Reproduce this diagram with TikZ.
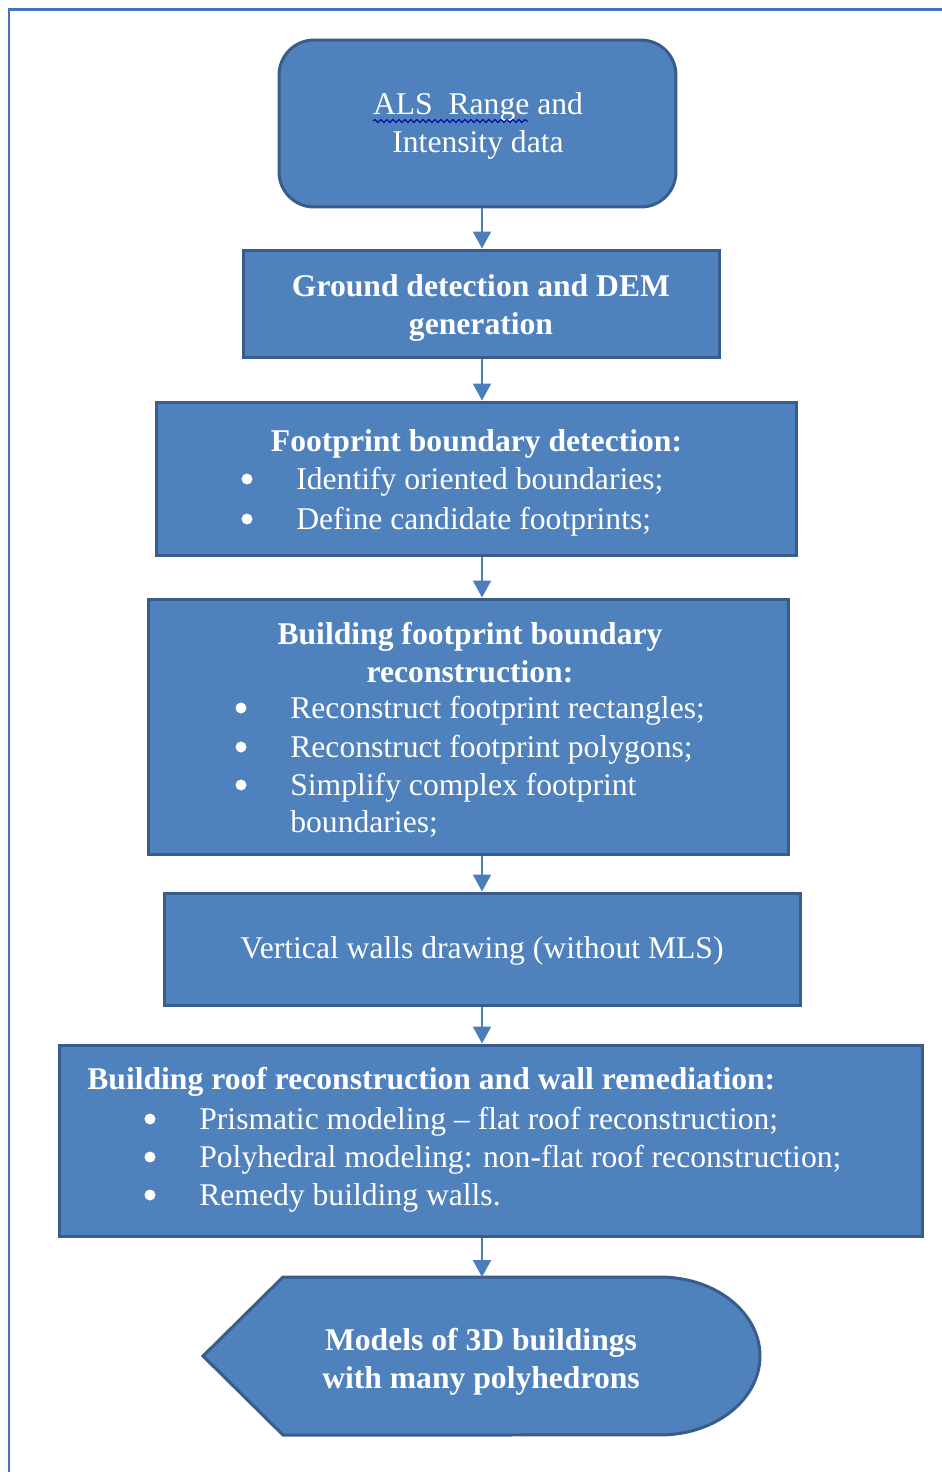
\documentclass[tikz,border=0pt]{standalone}
\usepackage{fontspec}
\setmainfont{Liberation Serif}
\usetikzlibrary{arrows.meta,decorations.pathmorphing}

\definecolor{boxfill}{RGB}{79,129,189}
\definecolor{boxedge}{RGB}{56,93,138}
\definecolor{framecol}{RGB}{68,114,196}
\definecolor{flowcol}{RGB}{74,126,187}

\begin{document}
\begin{tikzpicture}[
        x = 0.02cm, y = -0.02cm,
        > = {Triangle[width=0.36cm, length=0.34cm]},
        stepbox/.style = {draw = boxedge, fill = boxfill, line width = 0.06cm, inner sep = 0pt},
        steptext/.style = {text = white, inner sep = 0pt, font = \fontsize{18}{21.6}\selectfont, align = center},
        boldtext/.style = {steptext, font = \fontsize{18}{21.6}\selectfont\bfseries},
        itemtext/.style = {text = white, inner sep = 0pt, font = \fontsize{18}{21.6}\selectfont, anchor = base west},
        dot/.style = {circle, fill = white, inner sep = 0pt, minimum size = 0.22cm},
        flow/.style = {->, draw = flowcol, line width = 0.04cm}
    ]
        \useasboundingbox (0,0) rectangle (942,1472);
        % page frame (top and left edges only)
        \draw[framecol, line width = 0.06cm] (942,9) -- (9,9) -- (9,1472);

        % boxes
        \node[stepbox, rounded corners = 0.7cm, minimum width = 7.94cm, minimum height = 3.34cm] (als) at (477.5,123.5) {};
        \node[stepbox, minimum width = 9.54cm, minimum height = 2.14cm] (ground) at (481.5,303.5) {};
        \node[stepbox, minimum width = 12.82cm, minimum height = 3.08cm] (detect) at (476.5,479) {};
        \node[stepbox, minimum width = 12.82cm, minimum height = 5.12cm] (recon) at (468.5,727) {};
        \node[stepbox, minimum width = 12.74cm, minimum height = 2.24cm] (walls) at (482.5,949) {};
        \node[stepbox, minimum width = 17.28cm, minimum height = 3.84cm] (roof) at (491,1141) {};
        \draw[stepbox] (203,1356) -- (283,1277) -- (660,1277)
            arc[start angle = 90, end angle = -90, x radius = 2cm, y radius = 1.58cm]
            -- (283,1435) -- cycle;
        \coordinate (modelstop) at (482,1277);
        \coordinate (axis) at (482,0);

        % texts
        \node[steptext] (alstext) at (478,126) {ALS\ \ Range and\\Intensity data};
        \draw[blue!70!black, line width = 0.02cm, decorate,
            decoration = {snake, amplitude = 0.03cm, segment length = 0.12cm}] (373,121) -- (528,121);
        \node[boldtext] (groundtext) at (481,308) {Ground detection and DEM\\generation};

        \node[boldtext, anchor = base] (detecttitle) at (476.5,451) {Footprint boundary detection:};
        \node[dot] (db1) at (247,479) {};
        \node[itemtext] (di1) at (296,489) {Identify oriented boundaries;};
        \node[dot] (db2) at (247,519) {};
        \node[itemtext] (di2) at (296,529) {Define candidate footprints;};

        \node[boldtext] (recontitle) at (470,653) {Building footprint boundary\\reconstruction:};
        \node[dot] (rb1) at (241,708) {};
        \node[itemtext] (ri1) at (290,718) {Reconstruct footprint rectangles;};
        \node[dot] (rb2) at (241,747) {};
        \node[itemtext] (ri2) at (290,757) {Reconstruct footprint polygons;};
        \node[dot] (rb3) at (241,785) {};
        \node[itemtext] (ri3) at (290,795) {Simplify complex footprint};
        \node[itemtext] (ri4) at (290,832) {boundaries;};

        \node[steptext] (wallstext) at (482,951) {Vertical walls drawing (without MLS)};

        \node[itemtext, font = \fontsize{18}{21.6}\selectfont\bfseries] (rooftitle) at (87,1089) {Building roof reconstruction and wall remediation:};
        \node[dot] (fb1) at (150,1119) {};
        \node[itemtext] (fi1) at (199,1129) {Prismatic modeling -- flat roof reconstruction;};
        \node[dot] (fb2) at (150,1157) {};
        \node[itemtext] (fi2) at (199,1167) {Polyhedral modeling: non-flat roof reconstruction;};
        \node[dot] (fb3) at (150,1195) {};
        \node[itemtext] (fi3) at (199,1205) {Remedy building walls.};

        \node[boldtext] (models) at (481,1362) {Models of 3D buildings\\with many polyhedrons};

        % arrows
        \draw[flow] (als.south -| axis) -- (ground.north -| axis);
        \draw[flow] (ground.south -| axis) -- (detect.north -| axis);
        \draw[flow] (detect.south -| axis) -- (recon.north -| axis);
        \draw[flow] (recon.south -| axis) -- (walls.north -| axis);
        \draw[flow] (walls.south -| axis) -- (roof.north -| axis);
        \draw[flow] (roof.south -| axis) -- (modelstop);
    \end{tikzpicture}
\end{document}
